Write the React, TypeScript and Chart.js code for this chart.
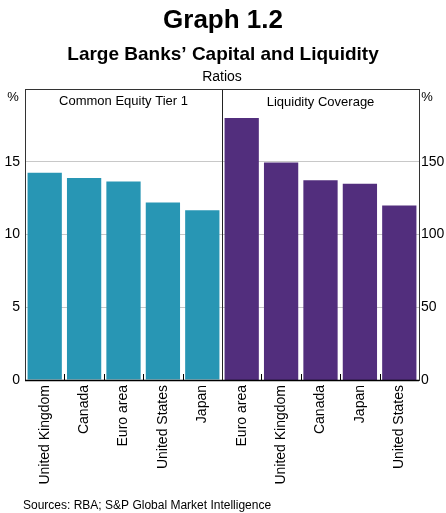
import React, { useEffect, useRef } from "react";
import { Chart, registerables } from "chart.js";

Chart.register(...registerables);

const categories = [
  "United Kingdom", "Canada", "Euro area", "United States", "Japan",
  "Euro area", "United Kingdom", "Canada", "Japan", "United States",
];
const cet1Values = [14.25, 13.88, 13.65, 12.2, 11.67, null, null, null, null, null];
const lcrValues = [null, null, null, null, null, 180, 149.4, 137.2, 134.9, 120];
const leftTicks = [0, 5, 10, 15, 20];
const rightTicks = [0, 50, 100, 150, 200];

const FONT = "'Liberation Sans', Arial, sans-serif";

const decorPlugin = {
  id: "decor",
  afterDatasetsDraw(chart: any) {
    const { ctx, chartArea } = chart;
    const { left, right, top, bottom } = chartArea;
    const x = chart.scales.x;
    ctx.save();
    // category boundary ticks (inward)
    ctx.strokeStyle = "#000";
    ctx.lineWidth = 1;
    for (let i = 1; i < categories.length; i++) {
      const bx = Math.round((x.getPixelForValue(i - 1) + x.getPixelForValue(i)) / 2) + 0.5;
      if (i === 5) {
        ctx.strokeStyle = "#222";
        ctx.beginPath();
        ctx.moveTo(bx, top);
        ctx.lineTo(bx, bottom);
        ctx.stroke();
        ctx.strokeStyle = "#000";
      } else {
        ctx.beginPath();
        ctx.moveTo(bx, bottom);
        ctx.lineTo(bx, bottom - 6);
        ctx.stroke();
      }
    }
    // border
    ctx.strokeStyle = "#333";
    ctx.strokeRect(Math.round(left) + 0.5, Math.round(top) + 0.5, Math.round(right - left), Math.round(bottom - top));
    ctx.strokeStyle = "#000";
    ctx.lineWidth = 1.5;
    ctx.beginPath();
    ctx.moveTo(left, Math.round(bottom) + 0.5);
    ctx.lineTo(right, Math.round(bottom) + 0.5);
    ctx.stroke();

    // texts
    ctx.fillStyle = "#000";
    ctx.textAlign = "center";
    ctx.textBaseline = "middle";
    const mid = (x.getPixelForValue(4) + x.getPixelForValue(5)) / 2;
    ctx.font = `13px ${FONT}`;
    ctx.fillText("Common Equity Tier 1", (left + mid) / 2, top + 12);
    ctx.fillText("Liquidity Coverage", (mid + right) / 2, top + 13);
    ctx.font = `13px ${FONT}`;
    ctx.fillText("%", 13, top + 8);
    ctx.fillText("%", 427, top + 8);

    ctx.font = `bold 26px ${FONT}`;
    ctx.fillText("Graph 1.2", 223, 21);
    ctx.font = `bold 19px ${FONT}`;
    ctx.fillText("Large Banks\u2019 Capital and Liquidity", 223, 55);
    ctx.font = `14px ${FONT}`;
    ctx.fillText("Ratios", 222, 77);
    ctx.textAlign = "left";
    ctx.font = `12px ${FONT}`;
    ctx.fillText("Sources: RBA; S&P Global Market Intelligence", 23, 506);
    ctx.restore();
  },
};

export default function App() {
  const ref = useRef<HTMLCanvasElement | null>(null);
  useEffect(() => {
    if (!ref.current) return;
    const chart = new Chart(ref.current, {
      type: "bar",
      data: {
        labels: categories,
        datasets: [
          {
            label: "Common Equity Tier 1",
            data: cet1Values,
            backgroundColor: "#2896b4",
            yAxisID: "y",
            barPercentage: 0.87,
            categoryPercentage: 1,
            skipNull: true,
          } as any,
          {
            label: "Liquidity Coverage",
            data: lcrValues,
            backgroundColor: "#522e7d",
            yAxisID: "y2",
            barPercentage: 0.87,
            categoryPercentage: 1,
            skipNull: true,
          } as any,
        ],
      },
      options: {
        responsive: false,
        animation: false,
        layout: { padding: { top: 89, left: 0, right: 0, bottom: 0 } },
        plugins: { legend: { display: false }, tooltip: { enabled: false }, title: { display: false } },
        scales: {
          x: {
            type: "category",
            offset: true,
            grid: { display: false, drawTicks: false },
            border: { display: false },
            ticks: {
              autoSkip: false,
              maxRotation: 90,
              minRotation: 90,
              padding: 5,
              color: "#000",
              font: { family: FONT, size: 14 },
            },
            afterFit: (s: any) => { s.height = 133; },
          },
          y: {
            position: "left",
            min: 0,
            max: 20,
            afterBuildTicks: (s: any) => { s.ticks = leftTicks.map((v) => ({ value: v })); },
            grid: { color: "#c8c8c8", drawTicks: false, lineWidth: 1 },
            border: { display: false },
            ticks: {
              padding: 5,
              color: "#000",
              font: { family: FONT, size: 14 },
              callback: (v: any) => (v === 20 ? "" : String(v)),
            },
            afterFit: (s: any) => { s.width = 25; },
          },
          y2: {
            position: "right",
            min: 0,
            max: 200,
            afterBuildTicks: (s: any) => { s.ticks = rightTicks.map((v) => ({ value: v })); },
            grid: { display: false, drawTicks: false },
            border: { display: false },
            ticks: {
              padding: 2,
              color: "#000",
              font: { family: FONT, size: 14 },
              callback: (v: any) => (v === 200 ? "" : String(v)),
            },
            afterFit: (s: any) => { s.width = 27; },
          },
        },
      },
      plugins: [decorPlugin],
    });
    return () => chart.destroy();
  }, []);
  return (
    <div style={{ position: "absolute", left: 0, top: 0, width: 446, height: 513, background: "#fff" }}>
      <canvas ref={ref} width={446} height={513} style={{ width: 446, height: 513, display: "block" }} />
    </div>
  );
}
